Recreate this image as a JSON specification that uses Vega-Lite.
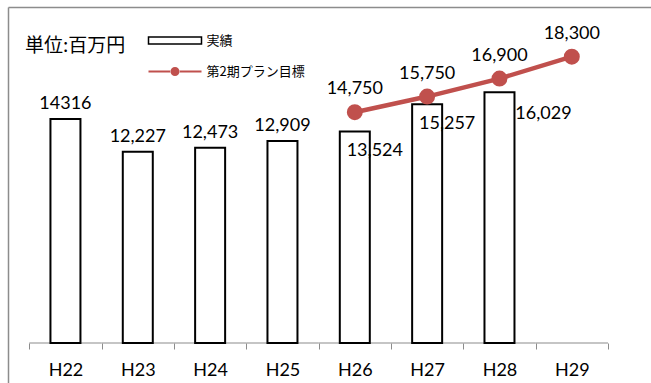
{
  "$schema": "https://vega.github.io/schema/vega-lite/v6.json",
  "width": 643,
  "height": 376,
  "autosize": {"type": "none"},
  "padding": {"left": 8, "top": 7, "right": 0, "bottom": 0},
  "background": "white",
  "config": {
    "view": {"stroke": null},
    "font": "Lato",
    "text": {"font": "Lato", "fontSize": 18, "color": "#000000"},
    "axisY": {
      "labels": false,
      "ticks": false,
      "domain": true,
      "domainColor": "#8c8c8c",
      "domainWidth": 1.5,
      "grid": true,
      "gridColor": "#8c8c8c",
      "gridWidth": 1.5,
      "gridOpacity": 1
    }
  },
  "title": {
    "text": "単位:百万円",
    "anchor": "start",
    "frame": "group",
    "orient": "top",
    "offset": 0,
    "dx": 17,
    "dy": 58,
    "baseline": "middle",
    "font": "Noto Sans CJK JP",
    "fontSize": 19,
    "fontWeight": "normal",
    "color": "#000000"
  },
  "data": {
    "values": [
      {"cat": "H22", "actual": 14316, "alabel": "14316", "plan": null, "plabel": null},
      {"cat": "H23", "actual": 12227, "alabel": "12,227", "plan": null, "plabel": null},
      {"cat": "H24", "actual": 12473, "alabel": "12,473", "plan": null, "plabel": null},
      {"cat": "H25", "actual": 12909, "alabel": "12,909", "plan": null, "plabel": null},
      {"cat": "H26", "actual": 13524, "alabel": "13,524", "plan": 14750, "plabel": "14,750"},
      {"cat": "H27", "actual": 15257, "alabel": "15,257", "plan": 15750, "plabel": "15,750"},
      {"cat": "H28", "actual": 16029, "alabel": "16,029", "plan": 16900, "plabel": "16,900"},
      {"cat": "H29", "actual": null, "alabel": null, "plan": 18300, "plabel": "18,300"}
    ]
  },
  "encoding": {
    "x": {
      "field": "cat",
      "type": "nominal",
      "sort": null,
      "scale": {
        "domain": ["H22", "H23", "H24", "H25", "H26", "H27", "H28", "H29"],
        "paddingInner": 0,
        "paddingOuter": 0.4444,
        "align": 0.331
      },
      "axis": {
        "title": null,
        "orient": "bottom",
        "offset": -40,
        "domain": false,
        "tickBand": "extent",
        "tickColor": "#8c8c8c",
        "tickWidth": 1,
        "tickSize": 6,
        "labelAngle": 0,
        "labelFont": "Lato",
        "labelFontSize": 18,
        "labelColor": "#000000",
        "labelPadding": 12,
        "labelFlush": false
      }
    }
  },
  "layer": [
    {
      "mark": {"type": "tick", "orient": "horizontal", "size": 72.34, "thickness": 1, "color": "#8c8c8c", "opacity": 1},
      "encoding": {
        "y": {
          "datum": 0,
          "type": "quantitative",
          "scale": {"domain": [-2556, 21474], "nice": false, "zero": false},
          "axis": {"title": null, "orient": "left", "values": [21474]}
        }
      }
    },
    {
      "transform": [{"filter": "datum.actual != null"}],
      "mark": {"type": "bar", "width": 30, "stroke": "#000000", "strokeWidth": 2},
      "encoding": {
        "y": {"field": "actual", "type": "quantitative", "axis": {"title": null, "orient": "left", "values": [21474]}},
        "y2": {"datum": 0},
        "fill": {
          "datum": "実績",
          "scale": {"range": ["#ffffff"]},
          "legend": {
            "orient": "none",
            "legendX": 160.5,
            "legendY": 27,
            "title": null,
            "padding": 0,
            "symbolType": "M-5.3,-0.7H5.3V0.7H-5.3Z",
            "symbolSize": 100,
            "symbolStrokeColor": "#000000",
            "symbolStrokeWidth": 1.5,
            "labelOffset": 25,
            "labelFont": "Noto Sans CJK JP",
            "labelFontSize": 13,
            "labelColor": "#000000"
          }
        }
      }
    },
    {
      "transform": [{"filter": "datum.plan != null"}],
      "mark": {"type": "line", "color": "#C0504D", "strokeWidth": 4.5},
      "encoding": {
        "y": {"field": "plan", "type": "quantitative", "axis": {"title": null, "orient": "left", "values": [21474]}}
      }
    },
    {
      "transform": [{"filter": "datum.plan != null"}],
      "mark": {"type": "circle", "size": 254, "opacity": 1},
      "encoding": {
        "y": {"field": "plan", "type": "quantitative", "axis": {"title": null, "orient": "left", "values": [21474]}},
        "color": {
          "datum": "第2期プラン目標",
          "scale": {"range": ["#C0504D"]},
          "legend": {
            "orient": "none",
            "legendX": 160.5,
            "legendY": 58,
            "title": null,
            "padding": 0,
            "symbolType": "M-5.3,-0.2H-0.8V0.2H-5.3Z M0.8,-0.2H5.3V0.2H0.8Z M-0.9,0A0.9,0.9 0 1 0 0.9,0A0.9,0.9 0 1 0 -0.9,0Z",
            "symbolSize": 100,
            "symbolStrokeWidth": 0,
            "labelOffset": 25,
            "labelFont": "Noto Sans CJK JP",
            "labelFontSize": 13,
            "labelColor": "#000000"
          }
        }
      }
    },
    {
      "transform": [{"filter": "indexof(['H22','H23','H24','H25'], datum.cat) >= 0"}],
      "mark": {"type": "text", "dy": -15, "baseline": "middle", "align": "center"},
      "encoding": {
        "y": {"field": "actual", "type": "quantitative", "axis": {"title": null, "orient": "left", "values": [21474]}},
        "text": {"field": "alabel"}
      }
    },
    {
      "transform": [{"filter": "indexof(['H26','H27'], datum.cat) >= 0"}],
      "mark": {"type": "text", "dx": 20, "dy": 20, "baseline": "middle", "align": "center"},
      "encoding": {
        "y": {"field": "actual", "type": "quantitative", "axis": {"title": null, "orient": "left", "values": [21474]}},
        "text": {"field": "alabel"}
      }
    },
    {
      "transform": [{"filter": "datum.cat == 'H28'"}],
      "mark": {"type": "text", "dx": 44, "dy": 22, "baseline": "middle", "align": "center"},
      "encoding": {
        "y": {"field": "actual", "type": "quantitative", "axis": {"title": null, "orient": "left", "values": [21474]}},
        "text": {"field": "alabel"}
      }
    },
    {
      "transform": [{"filter": "datum.plan != null"}],
      "mark": {"type": "text", "dy": -23, "baseline": "middle", "align": "center"},
      "encoding": {
        "y": {"field": "plan", "type": "quantitative", "axis": {"title": null, "orient": "left", "values": [21474]}},
        "text": {"field": "plabel"}
      }
    }
  ]
}
